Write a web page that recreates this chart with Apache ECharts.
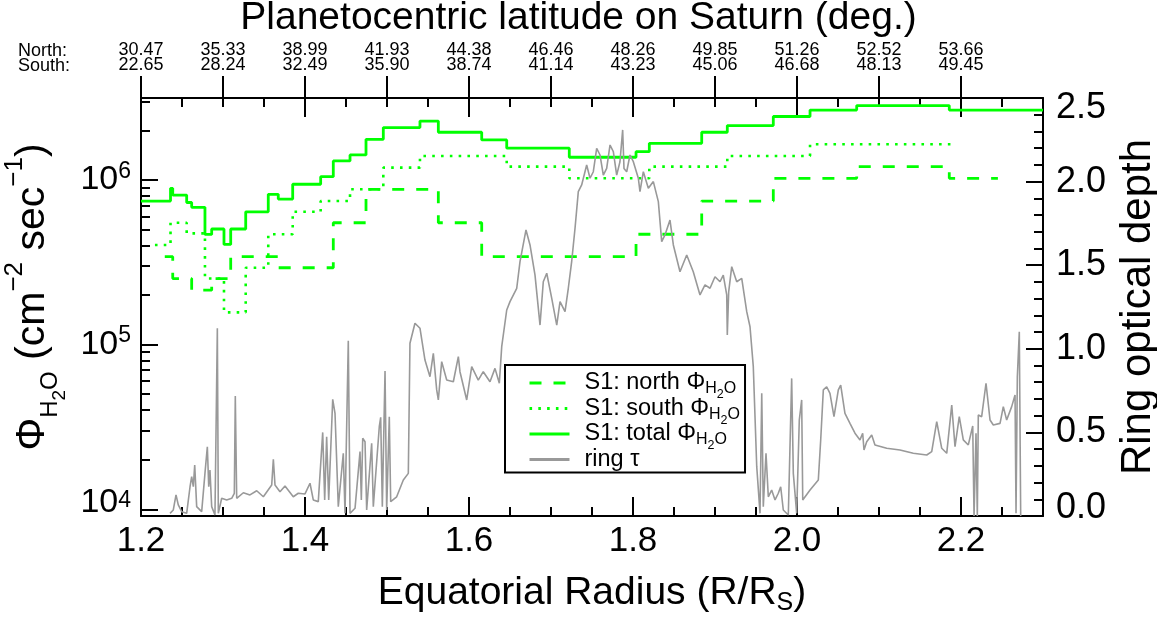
<!DOCTYPE html>
<html><head><meta charset="utf-8">
<script src="https://cdn.jsdelivr.net/npm/echarts@6/dist/echarts.min.js"></script>
<style>html,body{margin:0;padding:0;background:#fff}#c{width:1157px;height:621px}</style>
</head><body><div id="c"></div>
<script>
// ---- data ----
const northEdges = [1.229, 1.2387, 1.2618, 1.2862, 1.3094, 1.3674, 1.4345, 1.4744, 1.5626, 1.6155, 1.8037, 1.8838, 1.9711, 2.0728, 2.1857, 2.245];
const northFlux  = [3.42e5, 2.52e5, 2.14e5, 2.52e5, 3.42e5, 2.93e5, 5.5e5, 8.78e5, 5.5e5, 3.42e5, 4.68e5, 7.45e5, 1.024e6, 1.205e6, 1.024e6];
const southEdges = [1.217, 1.236, 1.2557, 1.278, 1.3012, 1.3277, 1.3552, 1.385, 1.4191, 1.4549, 1.4955, 1.5402, 1.646, 1.7223, 1.8199, 1.915, 2.0159, 2.19];
const southFlux  = [4.03e5, 5.5e5, 4.74e5, 2.52e5, 1.57e5, 2.93e5, 4.68e5, 6.41e5, 7.45e5, 8.78e5, 1.188e6, 1.40e6, 1.205e6, 1.024e6, 1.205e6, 1.40e6, 1.648e6];
const totalEdges = [1.2, 1.236, 1.2387, 1.2557, 1.2618, 1.278, 1.2862, 1.3012, 1.3094, 1.3277, 1.3552, 1.3674, 1.385, 1.4191, 1.4345, 1.4549, 1.4744, 1.4955, 1.5402, 1.5626, 1.6155, 1.646, 1.7223, 1.8037, 1.8199, 1.8838, 1.915, 1.9711, 2.0159, 2.0728, 2.1857, 2.3];
const totalFlux  = [7.45e5, 8.9e5, 8.1e5, 7.3e5, 6.82e5, 4.67e5, 5.04e5, 4.06e5, 5.04e5, 6.41e5, 8.18e5, 7.66e5, 9.42e5, 1.047e6, 1.305e6, 1.419e6, 1.767e6, 2.08e6, 2.28e6, 1.95e6, 1.75e6, 1.56e6, 1.374e6, 1.486e6, 1.67e6, 1.95e6, 2.14e6, 2.43e6, 2.66e6, 2.83e6, 2.66e6];

// ring optical depth: [R/Rs, tau]
const ringTau = [
[1.2354,0.016],[1.2394,0.036],[1.2427,0.126],[1.2455,0.066],[1.2496,0.026],[1.2557,0.016],[1.2598,0.175],[1.2618,0.235],[1.2638,0.175],[1.2655,0.305],
[1.2679,0.056],[1.2740,0.026],[1.2780,0.255],[1.2809,0.414],[1.2826,0.175],[1.2841,0.275],[1.2862,0.056],[1.2902,0.006],[1.2931,1.123],[1.2943,0.016],
[1.2984,0.106],[1.3045,0.096],[1.3106,0.106],[1.3138,0.136],[1.3150,0.718],[1.3167,0.106],[1.3248,0.139],[1.3329,0.126],[1.3411,0.151],[1.3492,0.115],
[1.3594,0.185],[1.3614,0.339],[1.3634,0.185],[1.3695,0.145],[1.3756,0.179],[1.3857,0.115],[1.3918,0.136],[1.4000,0.132],[1.4061,0.196],[1.4101,0.096],
[1.4162,0.086],[1.4216,0.500],[1.4240,0.096],[1.4264,0.474],[1.4289,0.096],[1.4338,0.698],[1.4366,0.614],[1.4406,0.056],[1.4467,0.375],[1.4488,0.016],
[1.4528,1.048],[1.4549,0.016],[1.4610,0.046],[1.4671,0.385],[1.4687,0.096],[1.4704,0.465],[1.4732,0.444],[1.4752,0.036],[1.4813,0.435],[1.4833,0.056],
[1.4906,0.534],[1.4923,0.590],[1.4943,0.056],[1.4976,0.867],[1.4996,0.036],[1.5028,0.594],[1.5045,0.086],[1.5118,0.115],[1.5199,0.215],[1.5260,0.255],
[1.5280,1.033],[1.5341,1.153],[1.5402,1.123],[1.5463,0.933],[1.5524,0.833],[1.5565,0.973],[1.5606,0.754],[1.5626,0.694],[1.5667,0.923],[1.5728,0.813],
[1.5809,0.803],[1.5870,0.953],[1.5890,0.863],[1.5972,0.694],[1.6033,0.893],[1.6113,0.813],[1.6174,0.863],[1.6256,0.803],[1.6317,0.883],[1.6370,0.794],
[1.6399,1.013],[1.6460,1.232],[1.6500,1.282],[1.6582,1.362],[1.6622,1.521],[1.6695,1.711],[1.6744,1.621],[1.6805,1.441],[1.6866,1.142],[1.6906,1.401],
[1.6948,1.452],[1.7009,1.302],[1.7070,1.142],[1.7110,1.282],[1.7171,1.222],[1.7211,1.362],[1.7252,1.521],[1.7293,1.721],[1.7333,1.940],[1.7374,1.980],
[1.7435,2.099],[1.7476,2.020],[1.7516,2.059],[1.7557,2.199],[1.7598,2.159],[1.7638,2.039],[1.7679,2.079],[1.7720,2.219],[1.7760,2.179],[1.7801,2.039],
[1.7841,2.119],[1.7874,2.309],[1.7890,2.079],[1.7923,2.059],[1.7963,2.159],[1.8004,2.119],[1.8065,2.020],[1.8085,1.940],[1.8126,2.059],[1.8187,1.960],
[1.8248,2.000],[1.8309,1.880],[1.8350,1.641],[1.8390,1.681],[1.8451,1.770],[1.8492,1.621],[1.8573,1.461],[1.8655,1.561],[1.8735,1.461],[1.8817,1.322],
[1.8878,1.382],[1.8939,1.362],[1.9000,1.431],[1.9061,1.401],[1.9101,1.441],[1.9143,1.322],[1.9150,1.083],[1.9167,1.341],[1.9204,1.491],[1.9265,1.401],
[1.9326,1.421],[1.9387,1.222],[1.9427,1.132],[1.9467,0.893],[1.9509,0.295],[1.9549,0.016],[1.9570,0.734],[1.9589,0.056],[1.9622,0.375],[1.9650,0.115],
[1.9691,0.155],[1.9732,0.096],[1.9772,0.136],[1.9801,0.175],[1.9833,0.036],[1.9894,0.006],[1.9935,0.823],[1.9955,0.255],[1.9996,0.016],[2.0028,0.574],
[2.0057,0.694],[2.0070,0.096],[2.0159,0.155],[2.0260,0.215],[2.0289,0.455],[2.0321,0.754],[2.0362,0.773],[2.0402,0.734],[2.0451,0.594],[2.0504,0.754],
[2.0533,0.783],[2.0585,0.614],[2.0646,0.554],[2.0707,0.495],[2.0768,0.455],[2.0801,0.495],[2.0817,0.395],[2.0850,0.444],[2.0911,0.484],[2.0951,0.425],
[2.1094,0.405],[2.1256,0.395],[2.1418,0.375],[2.1582,0.365],[2.1643,0.385],[2.1704,0.564],[2.1765,0.405],[2.1826,0.375],[2.1887,0.664],[2.1927,0.415],
[2.1979,0.594],[2.2028,0.455],[2.2089,0.425],[2.2143,0.538],[2.2159,0.0],[2.2183,0.495],[2.2199,0.0],[2.2211,0.604],[2.2252,0.594],[2.2305,0.794],
[2.2354,0.574],[2.2394,0.544],[2.2476,0.554],[2.2516,0.654],[2.2557,0.574],[2.2618,0.654],[2.2659,0.724],[2.2671,0.016],[2.2687,0.833],[2.2711,1.102],
[2.2728,0.0]
];

// tick labels
const latNorth = ['30.47','35.33','38.99','41.93','44.38','46.46','48.26','49.85','51.26','52.52','53.66'];
const latSouth = ['22.65','28.24','32.49','35.90','38.74','41.14','43.23','45.06','46.68','48.13','49.45'];
const latTickR = [1.2,1.3,1.4,1.5,1.6,1.7,1.8,1.9,2.0,2.1,2.2];
const radiusTicks = [1.2,1.4,1.6,1.8,2.0,2.2];
const fluxTicks = [1e4,1e5,1e6];
const tauTicks = [0,0.5,1.0,1.5,2.0,2.5];

// ---- helpers ----
const FONT = 'Liberation Sans';
function steps(edges, vals){
  const d = vals.map((v,i)=>[edges[i], v]);
  d.push([edges[edges.length-1], vals[vals.length-1]]);
  return d;
}
const radiusMinor = []; for (let i=0;i<=22;i++) radiusMinor.push(+(1.2+0.05*i).toFixed(2));
const fluxMinor = []; [1e4,1e5,1e6].forEach(d=>{for(let k=2;k<=9;k++){ if(d*k<3.1e6) fluxMinor.push(d*k);} });
const tauMinor = []; for (let i=0;i<=25;i++) tauMinor.push(+(0.1*i).toFixed(1));
const FMIN = Math.pow(10,3.959), FMAX = Math.pow(10,6.498);
const BLK = '#000';
const tickStyle = {color:BLK, width:2};
const GREEN = '#00ff00';

const chart = echarts.init(document.getElementById('c'), null, {renderer:'canvas'});
chart.setOption({
  animation:false,
  backgroundColor:'#fff',
  textStyle:{fontFamily:FONT},
  title:{text:'Planetocentric latitude on Saturn (deg.)', left:'center', top:-6,
    textStyle:{fontFamily:FONT, fontSize:39, fontWeight:'normal', color:BLK}},
  graphic:[{type:'text', left:18, top:42, style:{text:'North:\nSouth:', font:'18px "Liberation Sans"', lineHeight:15, fill:BLK}}],
  grid:{left:141, right:114, top:98, bottom:105, outerBoundsMode:'none', containLabel:false},
  legend:{
    orient:'vertical', left:505, top:365, itemWidth:40, itemHeight:20, itemGap:-5,
    padding:[6,5,1,23], borderColor:BLK, borderWidth:2, backgroundColor:'#fff',
    lineStyle:{width:3}, itemStyle:{opacity:0, borderWidth:0},
    data:['north','south','total','ring'],
    formatter:function(n){
      if(n==='ring') return '{sp|}{b|ring τ}';
      return '{sp|}{b|S1: '+n+' Φ}{s|H}{s2|2}{s|O}';
    },
    textStyle:{fontFamily:FONT, color:BLK, rich:{
      sp:{width:10},
      b:{fontSize:23.5, lineHeight:34, fontFamily:FONT, color:BLK},
      s:{fontSize:16, height:22, verticalAlign:'bottom', fontFamily:FONT, color:BLK},
      s2:{fontSize:12.5, height:10, verticalAlign:'bottom', fontFamily:FONT, color:BLK}
    }}
  },
  xAxis:[
    {type:'value', position:'bottom', min:1.2, max:2.3,
     axisLine:{show:true, lineStyle:tickStyle},
     axisTick:{show:true, inside:true, length:19, customValues:radiusTicks, lineStyle:tickStyle},
     axisLabel:{show:true, customValues:radiusTicks, fontFamily:FONT, fontSize:35, color:BLK, margin:8,
       formatter:v=>v.toFixed(1)},
     splitLine:{show:false},
     name:'{b|Equatorial Radius (R/R}{s|S}{b|)}', nameLocation:'middle', nameGap:50,
     nameTextStyle:{rich:{
       b:{fontFamily:FONT, fontSize:39, lineHeight:54, color:BLK},
       s:{fontFamily:FONT, fontSize:25, height:34, verticalAlign:'bottom', color:BLK}}}},
    {type:'value', position:'bottom', min:1.2, max:2.3,
     axisLine:{show:false}, axisLabel:{show:false}, splitLine:{show:false},
     axisTick:{show:true, inside:true, length:9, customValues:radiusMinor, lineStyle:tickStyle}},
    {type:'value', position:'top', min:1.2, max:2.3,
     axisLine:{show:true, lineStyle:tickStyle}, axisLabel:{show:false}, splitLine:{show:false},
     axisTick:{show:true, inside:true, length:19, customValues:radiusTicks, lineStyle:tickStyle}},
    {type:'value', position:'top', min:1.2, max:2.3,
     axisLine:{show:false}, axisLabel:{show:false}, splitLine:{show:false},
     axisTick:{show:true, inside:true, length:9, customValues:radiusMinor, lineStyle:tickStyle}},
    {type:'value', position:'top', min:1.2, max:2.3,
     axisLine:{show:false}, splitLine:{show:false},
     axisTick:{show:true, inside:false, length:22, customValues:latTickR, lineStyle:tickStyle},
     axisLabel:{show:true, customValues:latTickR, fontFamily:FONT, fontSize:18, lineHeight:15, color:BLK, margin:25,
       formatter:function(v){ const i=Math.round((v-1.2)*10); return latNorth[i]+'\n'+latSouth[i]; }}}
  ],
  yAxis:[
    {type:'log', position:'left', min:FMIN, max:FMAX, logBase:10,
     axisLine:{show:true, lineStyle:tickStyle}, splitLine:{show:false},
     axisTick:{show:true, inside:true, length:17, customValues:fluxTicks, lineStyle:tickStyle},
     axisLabel:{show:true, customValues:fluxTicks, margin:10,
       formatter:v=>{ const e=Math.round(Math.log10(v)); return e===4 ? '{lb|10}{lp|'+e+'}' : '{b|10}{p|'+e+'}'; },
       rich:{b:{fontFamily:FONT, fontSize:34, lineHeight:40, color:BLK},
             p:{fontFamily:FONT, fontSize:23, lineHeight:27, verticalAlign:'top', color:BLK},
             lb:{fontFamily:FONT, fontSize:34, lineHeight:40, color:BLK, padding:[0,0,14,0]},
             lp:{fontFamily:FONT, fontSize:23, lineHeight:27, verticalAlign:'top', color:BLK}}},
     name:'{b|Φ}{s|H}{s2|2}{s|O}{b| (cm}{p|−2}{b| sec}{p|−1}{b|)}', nameLocation:'middle', nameRotate:90, nameGap:64,
     nameTextStyle:{padding:[0,0,0,20], rich:{
       b:{fontFamily:FONT, fontSize:41, lineHeight:86, color:BLK},
       s:{fontFamily:FONT, fontSize:24, height:50, verticalAlign:'bottom', color:BLK},
       s2:{fontFamily:FONT, fontSize:19, height:31, verticalAlign:'bottom', color:BLK},
       p:{fontFamily:FONT, fontSize:26, height:51, verticalAlign:'top', color:BLK}}}},
    {type:'log', position:'left', min:FMIN, max:FMAX, logBase:10,
     axisLine:{show:false}, axisLabel:{show:false}, splitLine:{show:false},
     axisTick:{show:true, inside:true, length:9, customValues:fluxMinor, lineStyle:tickStyle}},
    {type:'value', position:'right', min:0, max:2.5,
     axisLine:{show:true, lineStyle:tickStyle}, splitLine:{show:false},
     axisTick:{show:true, inside:true, length:17, customValues:tauTicks, lineStyle:tickStyle},
     axisLabel:{show:true, customValues:tauTicks, margin:13,
       formatter:v=>{ const t=v.toFixed(1); return v>=2.5 ? '{t|'+t+'}' : (v<=0 ? '{m|'+t+'}' : '{n|'+t+'}'); },
       rich:{n:{fontFamily:FONT, fontSize:36, color:BLK},
             t:{fontFamily:FONT, fontSize:36, color:BLK, padding:[20,0,0,0]},
             m:{fontFamily:FONT, fontSize:36, color:BLK, padding:[0,0,16,0]}}},
     name:'Ring optical depth', nameLocation:'middle', nameRotate:90, nameGap:68,
     nameTextStyle:{fontFamily:FONT, fontSize:42, color:BLK}},
    {type:'value', position:'right', min:0, max:2.5,
     axisLine:{show:false}, axisLabel:{show:false}, splitLine:{show:false},
     axisTick:{show:true, inside:true, length:9, customValues:tauMinor, lineStyle:tickStyle}}
  ],
  series:[
    {name:'north', type:'line', step:'end', symbol:'none', xAxisIndex:0, yAxisIndex:0,
     data:steps(northEdges, northFlux), lineStyle:{color:GREEN, width:2.8, type:[12,12]}, itemStyle:{color:GREEN}},
    {name:'south', type:'line', step:'end', symbol:'none', xAxisIndex:0, yAxisIndex:0,
     data:steps(southEdges, southFlux), lineStyle:{color:GREEN, width:2.6, type:[2.6,6.2]}, itemStyle:{color:GREEN}},
    {name:'total', type:'line', step:'end', symbol:'none', xAxisIndex:0, yAxisIndex:0,
     data:steps(totalEdges, totalFlux), lineStyle:{color:GREEN, width:2.8}, itemStyle:{color:GREEN}},
    {name:'ring', type:'line', symbol:'none', xAxisIndex:0, yAxisIndex:2,
     data:ringTau, lineStyle:{color:'#999', width:1.6}, itemStyle:{color:'#999'}}
  ]
});
</script></body></html>
